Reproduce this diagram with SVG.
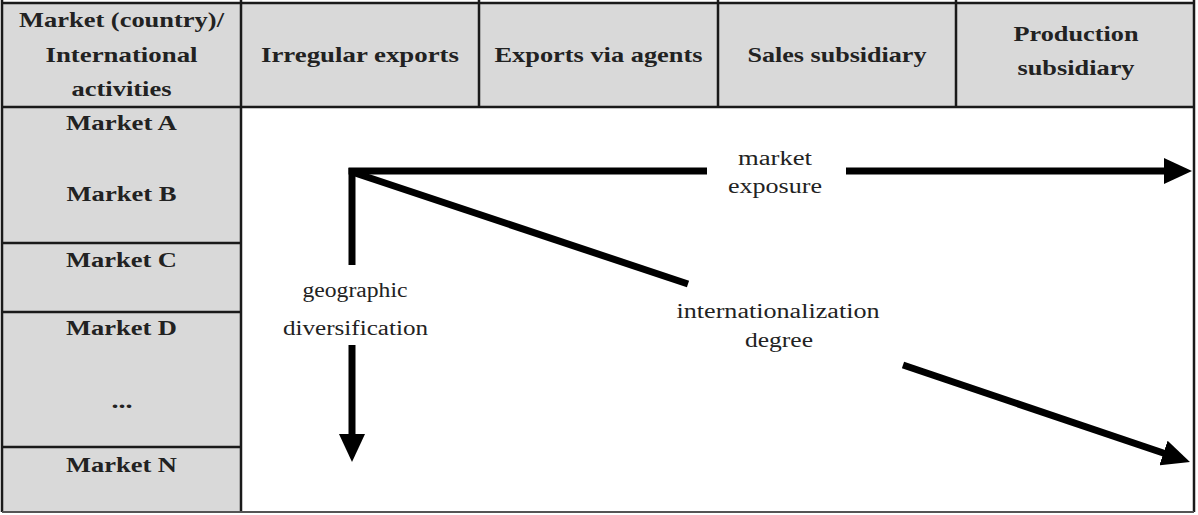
<svg xmlns="http://www.w3.org/2000/svg" width="1198" height="515" viewBox="0 0 1198 515">
<style>
.cell{fill:#d9d9d9;}
.grid{stroke:#1a1a1a;stroke-width:2.5;fill:none;}
.hd{font-family:"Liberation Serif","Times New Roman",serif;font-size:21px;font-weight:bold;fill:#222;text-anchor:middle;}
.lb{font-family:"Liberation Serif","Times New Roman",serif;font-size:20px;fill:#222;text-anchor:middle;}
.arr{stroke:#000;stroke-width:7;fill:none;}
</style>
<defs>
<marker id="head" markerUnits="userSpaceOnUse" viewBox="0 0 28 26" refX="10" refY="13" markerWidth="28" markerHeight="26" orient="auto">
<path d="M0,0 L28,13 L0,26 Z" fill="#000"/>
</marker>
</defs>
<rect x="0" y="0" width="1198" height="515" fill="#fff"/>

<g id="header">
<g id="h-market"><rect class="cell" x="2" y="3" width="239" height="104"/>
<text class="hd" x="121.5" y="27" textLength="205" lengthAdjust="spacingAndGlyphs">Market (country)/</text>
<text class="hd" x="121.5" y="62" textLength="152" lengthAdjust="spacingAndGlyphs">International</text>
<text class="hd" x="121.5" y="96" textLength="100" lengthAdjust="spacingAndGlyphs">activities</text></g>
<g id="h-irregular"><rect class="cell" x="241" y="3" width="238" height="104"/>
<text class="hd" x="360" y="62" textLength="198" lengthAdjust="spacingAndGlyphs">Irregular exports</text></g>
<g id="h-agents"><rect class="cell" x="479" y="3" width="239" height="104"/>
<text class="hd" x="598.5" y="62" textLength="208" lengthAdjust="spacingAndGlyphs">Exports via agents</text></g>
<g id="h-sales"><rect class="cell" x="718" y="3" width="238" height="104"/>
<text class="hd" x="837" y="62" textLength="179" lengthAdjust="spacingAndGlyphs">Sales subsidiary</text></g>
<g id="h-production"><rect class="cell" x="956" y="3" width="238" height="104"/>
<text class="hd" x="1076" y="41" textLength="125" lengthAdjust="spacingAndGlyphs">Production</text>
<text class="hd" x="1076" y="75" textLength="117" lengthAdjust="spacingAndGlyphs">subsidiary</text></g>
</g>

<g id="markets">
<g id="m-ab"><rect class="cell" x="2" y="107" width="239" height="136"/>
<text class="hd" x="121.5" y="130" textLength="111" lengthAdjust="spacingAndGlyphs">Market A</text>
<text class="hd" x="121.5" y="201" textLength="110" lengthAdjust="spacingAndGlyphs">Market B</text></g>
<g id="m-c"><rect class="cell" x="2" y="243" width="239" height="69"/>
<text class="hd" x="121.5" y="267" textLength="111" lengthAdjust="spacingAndGlyphs">Market C</text></g>
<g id="m-d"><rect class="cell" x="2" y="312" width="239" height="135"/>
<text class="hd" x="121.5" y="335" textLength="111" lengthAdjust="spacingAndGlyphs">Market D</text>
<text class="hd" x="122" y="408" textLength="21" lengthAdjust="spacingAndGlyphs">...</text></g>
<g id="m-n"><rect class="cell" x="2" y="447" width="239" height="65"/>
<text class="hd" x="121.5" y="472" textLength="111" lengthAdjust="spacingAndGlyphs">Market N</text></g>
</g>

<g id="grid">
<path class="grid" d="M2,3 H1195 M2,107 H1195 M2,0 V512 M241,0 V512 M479,0 V107 M718,0 V107 M956,0 V107 M1194,0 V512 M2,243 H241 M2,312 H241 M2,447 H241"/>
<path d="M2,512 H1194" stroke="#555" stroke-width="2"/>
</g>

<g id="connectors">
<path class="arr" d="M352,168 V265"/>
<path class="arr" d="M352,345 V444" marker-end="url(#head)"/>
<path class="arr" d="M348.5,171 H707"/>
<path class="arr" d="M846,171 H1174" marker-end="url(#head)"/>
<path class="arr" stroke-width="8" d="M352,172 L688,284"/>
<path class="arr" stroke-width="8" d="M903,365 L1172.9,456.2" marker-end="url(#head)"/>
</g>

<g id="labels">
<g id="l-exposure">
<text class="lb" x="775" y="165" textLength="74" lengthAdjust="spacingAndGlyphs">market</text>
<text class="lb" x="775" y="193" textLength="94" lengthAdjust="spacingAndGlyphs">exposure</text></g>
<g id="l-geo">
<text class="lb" x="355" y="297" textLength="105" lengthAdjust="spacingAndGlyphs">geographic</text>
<text class="lb" x="355.5" y="335" textLength="145" lengthAdjust="spacingAndGlyphs">diversification</text></g>
<g id="l-degree">
<text class="lb" x="778" y="318" textLength="203" lengthAdjust="spacingAndGlyphs">internationalization</text>
<text class="lb" x="779" y="347" textLength="68" lengthAdjust="spacingAndGlyphs">degree</text></g>
</g>
</svg>
